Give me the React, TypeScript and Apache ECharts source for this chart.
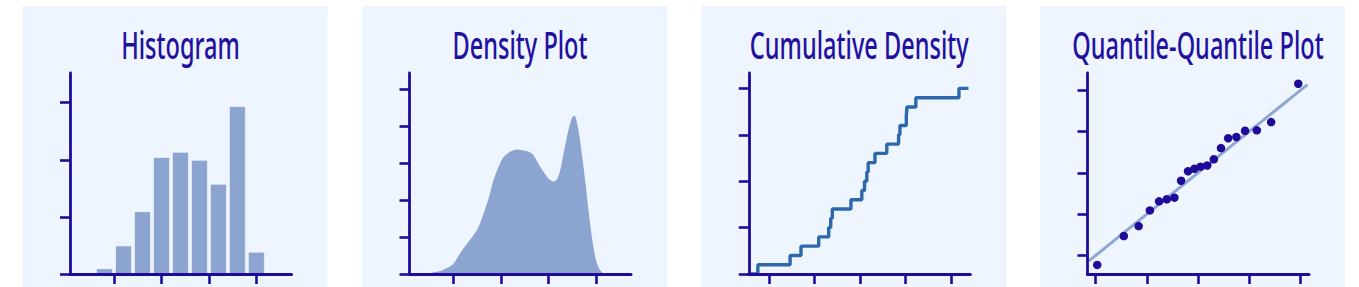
import React, { useEffect, useRef } from "react";
import * as echarts from "echarts";

// ---------- data ----------
const titles = ["Histogram", "Density Plot", "Cumulative Density", "Quantile-Quantile Plot"];

// Histogram
const histBinCenters = [4, 6, 8, 10, 12, 14, 16, 18, 20];
const histHeights = [0.1, 0.5, 1.1, 2.05, 2.14, 2.0, 1.58, 2.94, 0.39];
const histXTicks = [5, 10, 15, 20];
const histYTicks = [0, 1, 2, 3];

// Density
const densityX = [1.6, 2.55, 3.6, 4.3, 5.0, 5.71, 6.41, 7.11, 7.63, 8.16, 8.69, 9.21, 9.74, 10.27, 10.97, 11.67, 12.2, 12.9, 13.43, 13.95, 14.48, 15.0, 15.53, 15.89, 16.24, 16.59, 16.94, 17.29, 17.64, 17.82, 18.17, 18.52, 18.87, 19.22, 19.58, 19.93, 20.27, 20.63, 20.98, 21.5];
const densityY = [0, 0.03, 0.08, 0.16, 0.28, 0.57, 0.82, 1.05, 1.27, 1.63, 2.04, 2.53, 2.89, 3.16, 3.3, 3.36, 3.34, 3.3, 3.21, 2.98, 2.76, 2.58, 2.5, 2.55, 2.8, 3.25, 3.7, 4.06, 4.27, 4.26, 3.88, 3.25, 2.53, 1.72, 1.0, 0.46, 0.19, 0.05, 0, 0];
const densityXTicks = [5, 10, 15, 20];
const densityYTicks = [0, 1, 2, 3, 4, 5];

const cdfStepX = [-2.25, -1.54, -1.3, -0.91, -0.69, -0.645, -0.61, -0.2, 0.04, 0.1, 0.15, 0.18, 0.33, 0.59, 0.85, 0.88, 1.02, 1.035, 1.23, 2.18];
const cdfLevels = [0.05, 0.1, 0.15, 0.2, 0.25, 0.3, 0.35, 0.4, 0.45, 0.5, 0.55, 0.6, 0.65, 0.7, 0.75, 0.8, 0.85, 0.9, 0.95, 1.0];
const cdfStart = [-2.45, 0];
const cdfEnd = [2.39, 1.0];
const cdfXTicks = [-2, -1, 0, 1, 2];
const cdfYTicks = [0, 0.25, 0.5, 0.75, 1.0];

// Quantile-quantile
const qqTheoretical = [-1.97, -1.45, -1.16, -0.94, -0.76, -0.61, -0.46, -0.33, -0.195, -0.07, 0.05, 0.18, 0.31, 0.45, 0.59, 0.75, 0.92, 1.15, 1.43, 1.96];
const qqSample = [-2.23, -1.53, -1.29, -0.91, -0.69, -0.64, -0.6, -0.19, 0.04, 0.1, 0.15, 0.18, 0.33, 0.6, 0.84, 0.87, 1.02, 1.03, 1.23, 2.16];
const qqLineX = [-2.14, 2.14];
const qqLineY = [-2.14, 2.14];
const qqTicks = [-2, -1, 0, 1, 2];

// ---------- layout / style ----------
const W = 1359;
const H = 287;
const plotLefts = [70, 409.5, 748.8, 1087.5];
const plotWidth = 221.5;
const plotTop = 73;
const plotHeight = 201;
const panelOffset = 47.5;
const panelWidth = 305;
const panelTop = 6;

const AXIS = "#1f0b98";
const TITLE = "#22109e";
const PANEL_BG = "#eef5fe";
const FILL = "#8ca5d0";
const CDF_LINE = "#2d69aa";
const QQ_LINE = "#8ea8d3";
const DOT = "#1f0b98";

const xRanges: [number, number][] = [
  [0.36, 23.7],
  [0.36, 23.7],
  [-2.45, 2.43],
  [-2.16, 2.17],
];
const yRanges: [number, number][] = [
  [0, 3.52],
  [0, 5.43],
  [0, 1.083],
  [-2.45, 2.42],
];
const xTicks = [histXTicks, densityXTicks, cdfXTicks, qqTicks];
const yTicks = [histYTicks, densityYTicks, cdfYTicks, qqTicks];

export default function App() {
  const ref = useRef<HTMLDivElement>(null);

  useEffect(() => {
    if (!ref.current) return;
    const chart = echarts.init(ref.current, undefined, { renderer: "svg" });

    const grids = plotLefts.map((left) => ({
      left,
      top: plotTop,
      width: plotWidth,
      height: plotHeight,
      containLabel: false,
    }));

    const xAxes = plotLefts.map((_, i) => ({
      type: "value" as const,
      gridIndex: i,
      min: xRanges[i][0],
      max: xRanges[i][1],
      z: 5,
      axisLine: { show: true, onZero: false, lineStyle: { color: AXIS, width: 3 } },
      axisTick: { show: true, customValues: xTicks[i], length: 10, lineStyle: { color: AXIS, width: 2.6 } },
      axisLabel: { show: false, customValues: xTicks[i] },
      splitLine: { show: false },
    }));

    const yAxes = plotLefts.map((_, i) => ({
      type: "value" as const,
      gridIndex: i,
      min: yRanges[i][0],
      max: yRanges[i][1],
      z: 5,
      axisLine: { show: true, onZero: false, lineStyle: { color: AXIS, width: 2.8 } },
      axisTick: { show: true, customValues: yTicks[i], length: 10, lineStyle: { color: AXIS, width: 2.6 } },
      axisLabel: { show: false, customValues: yTicks[i] },
      splitLine: { show: false },
    }));

    const cdfData = [cdfStart, ...cdfStepX.map((x, k) => [x, cdfLevels[k]]), cdfEnd];

    const graphicElements: any[] = [];
    plotLefts.forEach((left) => {
      graphicElements.push({
        type: "rect",
        z: -10,
        shape: { x: left - panelOffset, y: panelTop, width: panelWidth, height: H - panelTop + 10 },
        style: { fill: PANEL_BG },
        silent: true,
      });
    });
    plotLefts.forEach((left, i) => {
      graphicElements.push({
        type: "text",
        x: left + 110.5,
        y: 44,
        scaleX: 0.62,
        z: 10,
        style: {
          text: titles[i],
          fill: TITLE,
          fontFamily: "Noto Sans",
          fontWeight: 500,
          fontSize: 38,
          align: "center",
          verticalAlign: "middle",
        },
        silent: true,
      });
    });

    chart.setOption({
      animation: false,
      backgroundColor: "#ffffff",
      grid: grids,
      xAxis: xAxes,
      yAxis: yAxes,
      graphic: { elements: graphicElements },
      series: [
        {
          type: "bar",
          xAxisIndex: 0,
          yAxisIndex: 0,
          barWidth: 17,
          data: histBinCenters.map((x, k) => [x, histHeights[k]]),
          itemStyle: { color: FILL, borderColor: "rgba(255,255,255,0.55)", borderWidth: 1 },
          silent: true,
        },
        {
          type: "line",
          xAxisIndex: 1,
          yAxisIndex: 1,
          data: densityX.map((x, k) => [x, densityY[k]]),
          smooth: 0.3,
          showSymbol: false,
          symbol: "none",
          lineStyle: { width: 0 },
          areaStyle: { color: FILL, opacity: 1 },
          silent: true,
        },
        {
          type: "line",
          xAxisIndex: 2,
          yAxisIndex: 2,
          step: "end",
          data: cdfData,
          showSymbol: false,
          symbol: "none",
          lineStyle: { color: CDF_LINE, width: 3.4 },
          silent: true,
        },
        {
          type: "line",
          xAxisIndex: 3,
          yAxisIndex: 3,
          data: qqLineX.map((x, k) => [x, qqLineY[k]]),
          showSymbol: false,
          symbol: "none",
          lineStyle: { color: QQ_LINE, width: 3 },
          silent: true,
        },
        {
          type: "scatter",
          xAxisIndex: 3,
          yAxisIndex: 3,
          data: qqTheoretical.map((x, k) => [x, qqSample[k]]),
          symbol: "circle",
          symbolSize: 8.5,
          itemStyle: { color: DOT, opacity: 1 },
          z: 6,
          silent: true,
        },
      ],
    });

    return () => chart.dispose();
  }, []);

  return (
    <div
      ref={ref}
      style={{ position: "absolute", left: 0, top: 0, width: W, height: H }}
    />
  );
}
